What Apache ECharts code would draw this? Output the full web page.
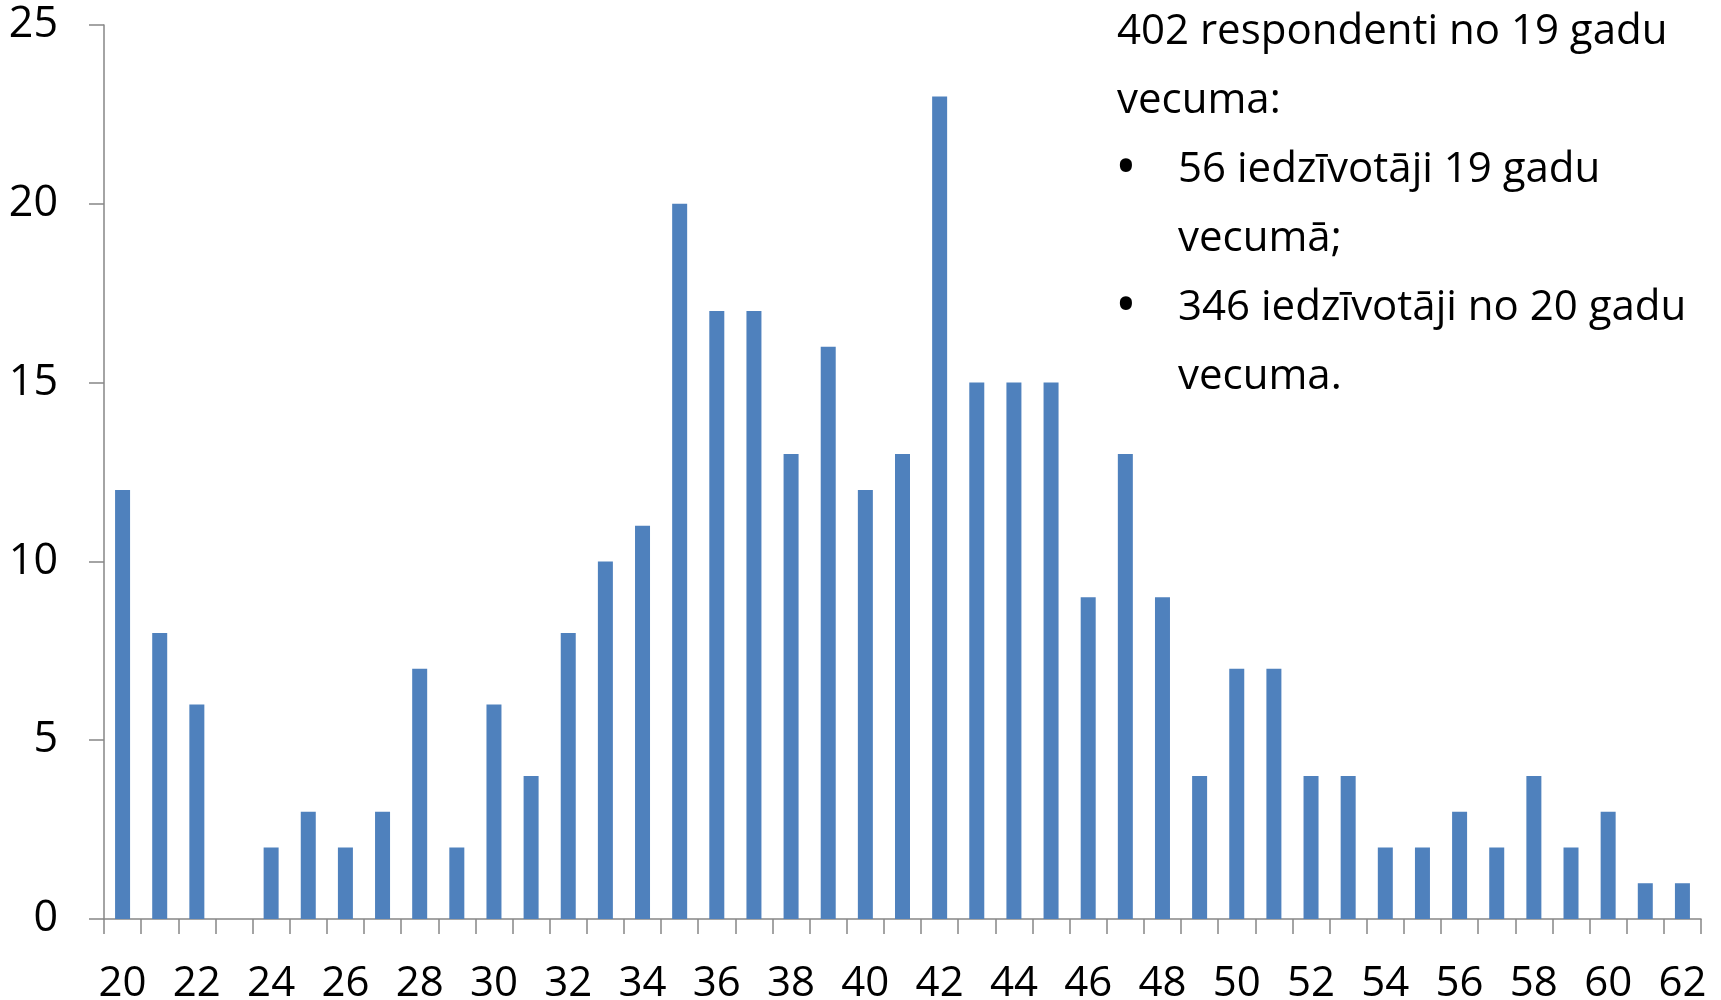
<!DOCTYPE html>
<html>
<head>
<meta charset="utf-8">
<script src="https://cdn.jsdelivr.net/npm/echarts@6/dist/echarts.min.js"></script>
<style>
html,body{margin:0;padding:0;background:#fff;}
#chart{width:1721px;height:1000px;}
</style>
</head>
<body>
<div id="chart"></div>
<script>
const ages = ['20','21','22','23','24','25','26','27','28','29','30','31','32','33','34','35','36','37','38','39','40','41','42','43','44','45','46','47','48','49','50','51','52','53','54','55','56','57','58','59','60','61','62'];
const counts = [12,8,6,0,2,3,2,3,7,2,6,4,8,10,11,20,17,17,13,16,12,13,23,15,15,15,9,13,9,4,7,7,4,4,2,2,3,2,4,2,3,1,1];
const noteLines = [
  {text: '402 respondenti no 19 gadu', bullet: false},
  {text: 'vecuma:', bullet: false},
  {text: '56 iedzīvotāji 19 gadu', bullet: true},
  {text: 'vecumā;', bullet: false, indent: true},
  {text: '346 iedzīvotāji no 20 gadu', bullet: true},
  {text: 'vecuma.', bullet: false, indent: true}
];
const FONT = '"Open Sans", "Noto Sans", sans-serif';
const FS = 42;
const chart = echarts.init(document.getElementById('chart'), null, {renderer: 'canvas'});
const graphics = [];
const lineY0 = 32, lineStep = 69;
noteLines.forEach((l, i) => {
  const y = lineY0 + i * lineStep;
  if (l.bullet) {
    graphics.push({type: 'text', x: 1126, y: y, style: {text: '•', fontSize: 58, fontFamily: FONT, fill: '#000', verticalAlign: 'middle', align: 'center'}});
  }
  const x = (l.bullet || l.indent) ? 1178 : 1117;
  graphics.push({type: 'text', x: x, y: y, style: {text: l.text, fontSize: 42, fontFamily: FONT, fill: '#000', verticalAlign: 'middle', align: 'left'}});
});
chart.setOption({
  animation: false,
  backgroundColor: '#fff',
  grid: {left: 104, right: 20, top: 25, bottom: 81, containLabel: false, outerBoundsMode: 'none'},
  xAxis: {
    type: 'category',
    data: ages,
    boundaryGap: true,
    axisLine: {lineStyle: {color: '#868686', width: 1.5}},
    axisTick: {show: true, interval: 0, length: 15, lineStyle: {color: '#868686', width: 1.5}},
    axisLabel: {interval: 1, fontSize: FS, fontFamily: FONT, color: '#000', margin: 44}
  },
  yAxis: {
    type: 'value',
    min: 0, max: 25, interval: 5,
    axisLine: {show: true, lineStyle: {color: '#868686', width: 1.5}},
    axisTick: {show: true, length: 15, lineStyle: {color: '#868686', width: 1.5}},
    splitLine: {show: false},
    axisLabel: {fontSize: FS + 1, fontFamily: FONT, color: '#000', margin: 46}
  },
  series: [{
    type: 'bar',
    data: counts,
    barWidth: 15,
    itemStyle: {color: '#4F81BD'}
  }],
  graphic: graphics
});
</script>
</body>
</html>
